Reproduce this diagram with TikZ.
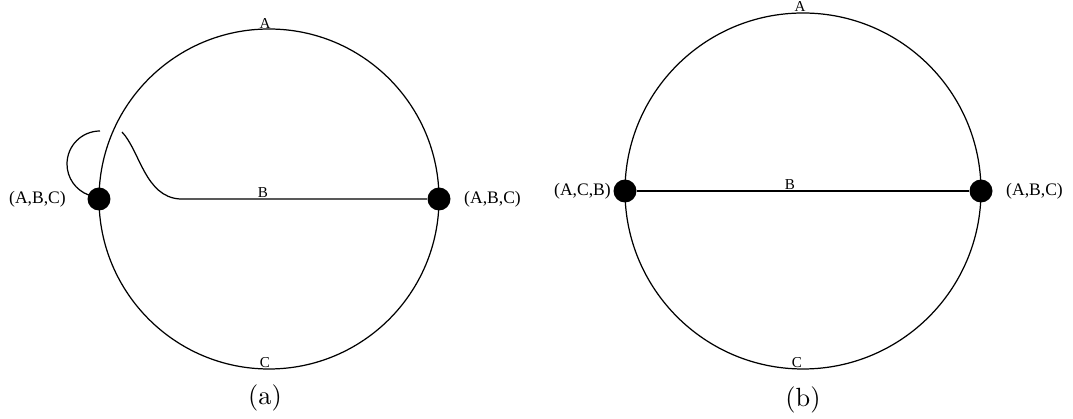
\documentclass[tikz,border=0pt]{standalone}
\usepackage{fontspec}
\newfontfamily\tnr{Liberation Serif}
\newfontfamily\lmten{lmroman10-regular.otf}
\usetikzlibrary{positioning}

\begin{document}
\begin{tikzpicture}[x=0.02cm,y=0.02cm,line width=0.7pt,
  vtx/.style={circle,fill=black,inner sep=0pt,minimum size=0.46cm},
  tag/.style={font=\tnr\fontsize{10}{12}\selectfont,inner sep=0pt},
  elab/.style={font=\tnr\fontsize{8.6}{10}\selectfont,inner sep=0.3pt,anchor=south},
  subcap/.style={font=\lmten\fontsize{15}{18}\selectfont}]
\useasboundingbox (0,0) rectangle (1073,419);
% (a)
\node[vtx] (u1) at (99,220) {};
\node[vtx] (v1) at (439,220) {};
\node[tag,left=0.41cm of u1] (tu1) {(A,B,C)};
\node[tag,right=0.25cm of v1] (tv1) {(A,B,C)};
\coordinate (g1) at (100,288);
\coordinate (g2) at (122,287);
\coordinate (k1) at (180,220);
\draw (u1) arc[start angle=180,end angle=0,radius=170];
\draw (u1) arc[start angle=180,end angle=360,radius=170];
\draw (g1) arc[start angle=90,end angle=250,radius=33];
\draw (g2) .. controls (140,268) and (145,222) .. (k1) -- (v1);
\node[elab] (a1) at (265,389) {A};
\node[elab] (b1) at (263,220) {B};
\node[elab] (c1) at (265,50) {C};
\node[subcap] (ca) at (265,21) {(a)};
% (b)
\node[vtx] (u2) at (625,228) {};
\node[vtx] (v2) at (981,228) {};
\node[tag,left=0.03cm of u2] (tu2) {(A,C,B)};
\node[tag,right=0.25cm of v2] (tv2) {(A,B,C)};
\draw (u2) arc[start angle=180,end angle=0,radius=178];
\draw (u2) arc[start angle=180,end angle=360,radius=178];
\draw (u2) -- (v2);
\node[elab] (a2) at (800,406) {A};
\node[elab] (b2) at (790,228) {B};
\node[elab] (c2) at (797,50) {C};
\node[subcap] (cb) at (803,19) {(b)};
\end{tikzpicture}
\end{document}
